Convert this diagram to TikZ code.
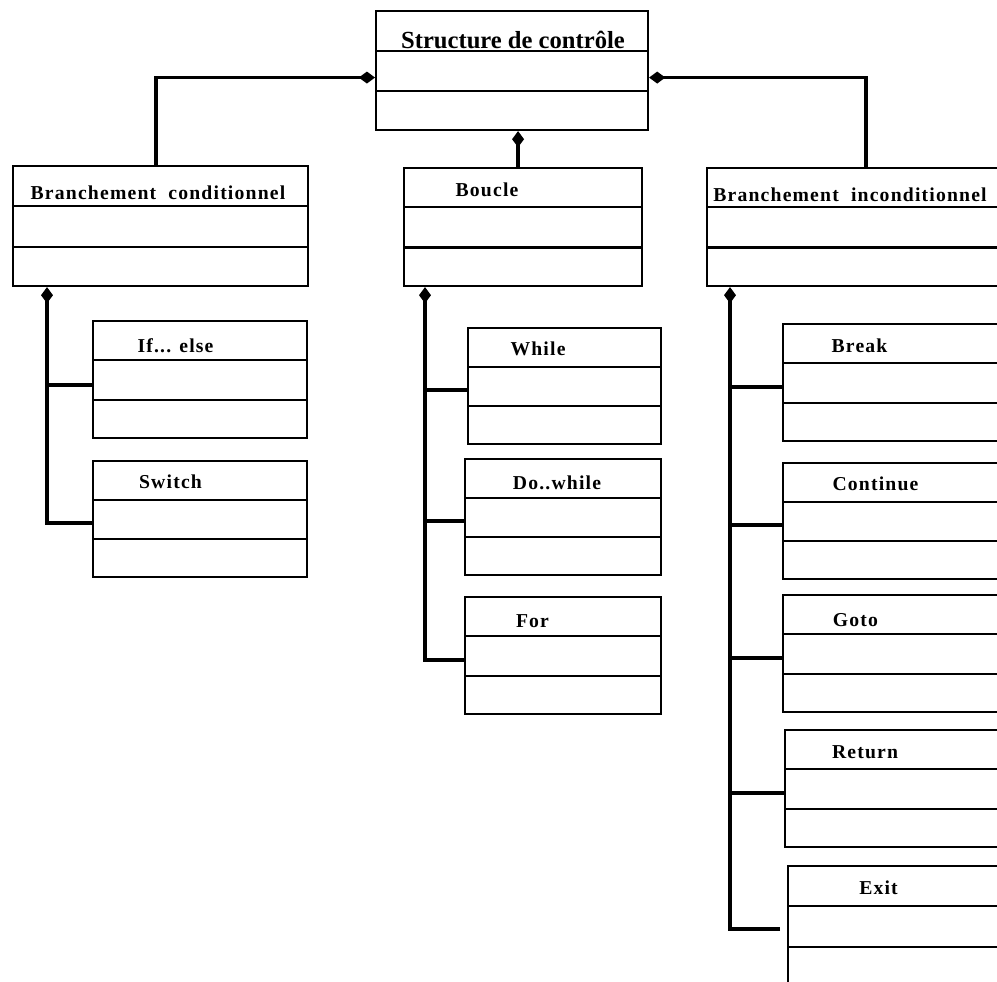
\documentclass[tikz,border=0pt]{standalone}
\usepackage{fontspec}
\setmainfont{Liberation Serif}
\newfontfamily\umlfont[LetterSpace=6]{Liberation Serif}
\usetikzlibrary{arrows.meta,calc}

\begin{document}
\begin{tikzpicture}[every node/.style={font=\bfseries}]
  \tikzset{
    cls/.style={draw,line width=0.6pt,inner sep=0pt,anchor=north west},
    lbl/.style={font=\umlfont\bfseries\fontsize{5.6}{7}\selectfont,inner sep=0pt},
    link/.style={line width=1.1pt},
    comp/.style={link,-{Diamond[length=4.6pt,width=3.4pt]}}
  }
  \useasboundingbox (0,0) rectangle (9.97,-9.81);
  \clip (0,0) rectangle (9.97,-9.81);
  \node[cls,minimum width=2.72cm,minimum height=1.19cm] (top) at (3.75,-0.10) {};
  \node[font=\bfseries\fontsize{7}{8}\selectfont,inner sep=0pt] (top-lbl) at (5.13,-0.40) {Structure de contrôle};
  \draw[line width=0.6pt] ($(top.north west)!0.336!(top.south west)$) -- ($(top.north east)!0.336!(top.south east)$);
  \draw[line width=0.6pt] ($(top.north west)!0.672!(top.south west)$) -- ($(top.north east)!0.672!(top.south east)$);
  \foreach \n/\x/\y/\w/\h/\t/\lx/\ly in {
      cond/0.12/-1.65/2.95/1.20/Branchement~~conditionnel/1.58/-1.93,
      boucle/4.03/-1.67/2.38/1.18/Boucle/4.87/-1.90,
      incond/7.06/-1.67/3.10/1.18/Branchement~~inconditionnel/8.50/-1.95,
      ifelse/0.92/-3.20/2.14/1.17/{If{.}{.}{.} else}/1.755/-3.46,
      switch/0.92/-4.60/2.14/1.16/Switch/1.705/-4.82,
      while/4.67/-3.27/1.93/1.16/While/5.38/-3.49,
      dowhile/4.64/-4.58/1.96/1.16/{Do{.}{.}while}/5.57/-4.83,
      for/4.64/-5.96/1.96/1.17/For/5.325/-6.21,
      break/7.82/-3.23/2.30/1.17/Break/8.595/-3.46,
      continue/7.82/-4.62/2.30/1.16/Continue/8.755/-4.84,
      goto/7.82/-5.94/2.30/1.17/Goto/8.555/-6.20,
      return/7.84/-7.29/2.30/1.17/Return/8.65/-7.52,
      exit/7.87/-8.65/2.30/1.20/Exit/8.785/-8.875} {
    \node[cls,minimum width=\w cm,minimum height=\h cm] (\n) at (\x,\y) {};
    \node[lbl] (\n-lbl) at (\lx,\ly) {\t};
    \draw[line width=0.6pt] ($(\n.north west)!0.335!(\n.south west)$) -- ($(\n.north east)!0.335!(\n.south east)$);
    \draw[line width=0.6pt] ($(\n.north west)!0.67!(\n.south west)$) -- ($(\n.north east)!0.67!(\n.south east)$);
  }
  \draw[comp] ([xshift=-0.045cm]cond.north) |- ([yshift=-0.07cm]top.west);
  \draw[comp] ([xshift=0.04cm]incond.north) |- ([yshift=-0.07cm]top.east);
  \draw[comp] ([xshift=0.06cm]top.south |- boucle.north) -- ([xshift=0.06cm]top.south);
  \coordinate (spA) at ([xshift=0.35cm]cond.south west);
  \coordinate (spB) at ([xshift=0.22cm]boucle.south west);
  \coordinate (spC) at ([xshift=0.24cm]incond.south west);
  \draw[link] ([yshift=-0.05cm]ifelse.west) -- ([yshift=-0.05cm]ifelse.west -| spA);
  \draw[comp] ([yshift=-0.04cm]switch.west) -| (spA);
  \foreach \c in {while,dowhile}
    \draw[link] ([yshift=-0.04cm]\c.west) -- ([yshift=-0.04cm]\c.west -| spB);
  \draw[comp] ([yshift=-0.04cm]for.west) -| (spB);
  \foreach \c in {break,continue,goto,return}
    \draw[link] ([yshift=-0.04cm]\c.west) -- ([yshift=-0.04cm]\c.west -| spC);
  \draw[comp] ([xshift=-0.07cm,yshift=-0.03cm]exit.west) -| (spC);
\end{tikzpicture}
\end{document}
